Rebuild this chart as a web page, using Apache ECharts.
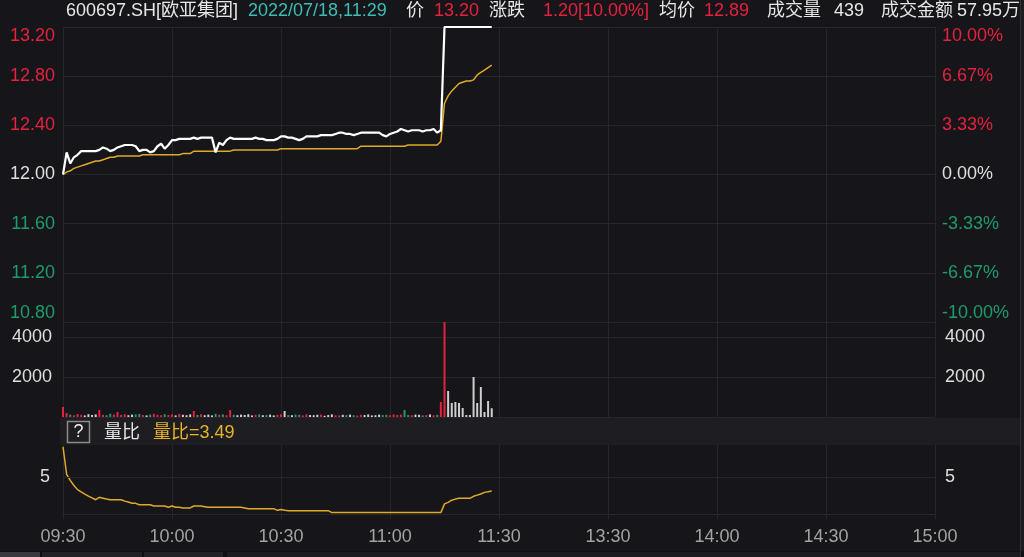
<!DOCTYPE html>
<html><head><meta charset="utf-8">
<script src="https://cdn.jsdelivr.net/npm/echarts@6/dist/echarts.min.js"></script>
<style>html,body{margin:0;padding:0;background:#16161a;}#c{width:1024px;height:557px;}</style>
</head><body><div id="c"></div><script>
// ---------- data ----------
const preClose = 12.00;
const tickLabels = ['09:30','10:00','10:30','11:00','11:30','13:30','14:00','14:30','15:00'];
const priceTicksLeft = [10.80, 11.20, 11.60, 12.00, 12.40, 12.80, 13.20];
const volumeTicks = [2000, 4000];
const ratioTicks = [5];

// minute price 09:30 .. 11:29
const price = [
 12.00,12.18,12.09,12.14,12.16,12.19,12.19,12.19,12.19,12.19,
 12.20,12.22,12.21,12.19,12.20,12.22,12.23,12.24,12.24,12.24,
 12.23,12.19,12.20,12.20,12.18,12.19,12.23,12.25,12.21,12.24,
 12.28,12.28,12.29,12.29,12.29,12.29,12.30,12.29,12.30,12.30,
 12.30,12.30,12.18,12.26,12.24,12.28,12.30,12.29,12.29,12.29,
 12.29,12.29,12.29,12.30,12.29,12.29,12.28,12.28,12.28,12.29,
 12.31,12.31,12.30,12.30,12.29,12.28,12.29,12.31,12.31,12.31,
 12.31,12.32,12.32,12.32,12.32,12.33,12.34,12.34,12.33,12.33,
 12.32,12.33,12.34,12.34,12.34,12.34,12.34,12.34,12.32,12.31,
 12.33,12.34,12.35,12.37,12.36,12.35,12.36,12.36,12.36,12.35,
 12.36,12.36,12.37,12.34,12.36,13.20,13.20,13.20,13.20,13.20,
 13.20,13.20,13.20,13.20,13.20,13.20,13.20,13.20,13.20
];
const avgPrice = [
 12.00,12.02,12.03,12.05,12.06,12.07,12.08,12.09,12.10,12.11,
 12.11,12.12,12.13,12.14,12.14,12.15,12.15,12.15,12.15,12.15,
 12.15,12.15,12.16,12.16,12.16,12.16,12.16,12.16,12.16,12.16,
 12.16,12.16,12.16,12.17,12.17,12.17,12.19,12.19,12.19,12.19,
 12.19,12.19,12.19,12.19,12.19,12.19,12.19,12.20,12.20,12.20,
 12.20,12.20,12.20,12.20,12.20,12.20,12.20,12.20,12.20,12.20,
 12.21,12.21,12.21,12.21,12.21,12.21,12.21,12.21,12.21,12.21,
 12.21,12.21,12.21,12.21,12.21,12.21,12.21,12.21,12.21,12.21,
 12.21,12.21,12.23,12.23,12.23,12.23,12.23,12.23,12.23,12.23,
 12.23,12.23,12.23,12.23,12.23,12.24,12.24,12.24,12.24,12.24,
 12.24,12.24,12.24,12.24,12.27,12.58,12.64,12.68,12.71,12.74,
 12.75,12.76,12.76,12.77,12.81,12.83,12.85,12.87,12.89
];
const volume = [
 500,200,120,90,150,110,80,140,100,130,
 350,110,90,160,120,250,100,140,90,120,
 130,150,100,80,120,160,110,90,140,100,
 120,80,150,110,90,130,300,100,140,90,
 120,80,160,110,130,90,350,110,90,120,
 100,140,80,110,130,90,100,120,80,110,
 140,300,100,90,120,110,80,130,100,90,
 110,120,60,100,130,90,80,110,100,120,
 90,70,110,100,130,80,90,120,100,110,
 90,130,100,120,350,100,90,120,110,80,
 100,130,90,110,750,4750,1300,700,750,700,
 450,100,100,2000,700,1500,250,800,439
];
const volRatio = [
 8.31,5.32,4.65,4.10,3.65,3.40,3.17,2.95,2.75,2.55,
 2.81,2.72,2.63,2.55,2.55,2.55,2.55,2.40,2.30,2.16,
 2.16,2.01,2.01,2.01,2.01,1.87,1.87,1.87,1.87,1.73,
 1.87,1.73,1.73,1.66,1.66,1.66,1.87,1.87,1.87,1.80,
 1.73,1.73,1.73,1.73,1.73,1.73,1.73,1.73,1.73,1.73,
 1.66,1.58,1.58,1.58,1.58,1.58,1.58,1.58,1.58,1.40,
 1.50,1.40,1.36,1.36,1.36,1.36,1.36,1.36,1.36,1.36,
 1.36,1.36,1.36,1.36,1.15,1.15,1.15,1.15,1.15,1.15,
 1.15,1.15,1.15,1.15,1.15,1.15,1.15,1.15,1.15,1.15,
 1.15,1.15,1.15,1.15,1.15,1.15,1.15,1.15,1.15,1.15,
 1.15,1.15,1.15,1.15,1.15,2.10,2.27,2.50,2.62,2.70,
 2.70,2.70,2.70,2.92,3.05,3.17,3.35,3.41,3.49
];

// ---------- build ----------
function pad(n){return (n<10?'0':'')+n;}
const times = [];
for (let m = 0; m <= 120; m++) { const t = 570 + m; times.push(pad(Math.floor(t/60)) + ':' + pad(t%60)); }
for (let m = 1; m <= 120; m++) { const t = 780 + m; times.push(pad(Math.floor(t/60)) + ':' + pad(t%60)); }

const FONT = "'Liberation Sans', 'Noto Sans CJK SC', sans-serif";
const RED = '#e5213f', GREEN = '#1f9b6b', WHITE = '#dedede', GRIDC = '#26262b', GOLD = '#e0a928';
const tickSet = new Set(tickLabels);

const volData = volume.map((v, i) => {
  let c;
  if (i === 0) c = RED;
  else if (price[i] > price[i-1] + 1e-9) c = RED;
  else if (price[i] < price[i-1] - 1e-9) c = GREEN;
  else c = '#cfcfcf';
  return { value: v, itemStyle: { color: c } };
});

const gl = 63, gr = 89;
const grids = [
  { left: gl, right: gr, top: 27, height: 295 },
  { left: gl, right: gr, top: 322, height: 95 },
  { left: gl, right: gr, top: 445, height: 69 }
];

function xAx(i, showLabel) {
  return {
    type: 'category', gridIndex: i, data: times, boundaryGap: false,
    axisLine: { show: i === 2, lineStyle: { color: GRIDC } },
    axisTick: { show: i === 2, length: 5, interval: (idx) => idx % 30 === 0, lineStyle: { color: GRIDC } },
    splitLine: { show: true, interval: (idx) => idx % 30 === 0, lineStyle: { color: GRIDC, width: 1 } },
    axisLabel: {
      show: showLabel, interval: (idx) => idx % 30 === 0, margin: 14,
      color: '#a3a3a3', fontSize: 18, fontFamily: FONT,
      formatter: v => tickSet.has(v) ? v : ''
    }
  };
}

function priceColor(v) {
  if (v > preClose + 1e-6) return RED;
  if (v < preClose - 1e-6) return GREEN;
  return WHITE;
}

const option = {
  animation: false,
  backgroundColor: '#16161a',
  grid: grids,
  xAxis: [xAx(0, false), xAx(1, false), xAx(2, true)],
  yAxis: [
    { type: 'value', gridIndex: 0, position: 'left', min: priceTicksLeft[0], max: priceTicksLeft[priceTicksLeft.length-1], interval: 0.4,
      axisLine: { show: false }, axisTick: { show: false },
      splitLine: { show: true, lineStyle: { color: GRIDC } },
      axisLabel: { margin: 8, fontSize: 18, fontFamily: FONT,
        verticalAlignMaxLabel: 'top', verticalAlignMinLabel: 'bottom',
        formatter: v => v.toFixed(2), color: v => priceColor(v) } },
    { type: 'value', gridIndex: 0, position: 'right', min: -10, max: 10, interval: 10/3,
      axisLine: { show: false }, axisTick: { show: false }, splitLine: { show: false },
      axisLabel: { margin: 7, fontSize: 18, fontFamily: FONT,
        verticalAlignMaxLabel: 'top', verticalAlignMinLabel: 'bottom',
        formatter: v => (Math.abs(v) < 1e-6 ? 0 : v).toFixed(2) + '%',
        color: v => v > 1e-6 ? RED : (v < -1e-6 ? GREEN : WHITE) } },
    { type: 'value', gridIndex: 1, position: 'left', min: 0, max: 4750, interval: 2000,
      axisLine: { show: false }, axisTick: { show: false },
      splitLine: { show: true, lineStyle: { color: GRIDC } },
      axisLabel: { margin: 11, fontSize: 18, fontFamily: FONT, color: WHITE,
        formatter: v => volumeTicks.indexOf(v) >= 0 ? String(v) : '' } },
    { type: 'value', gridIndex: 1, position: 'right', min: 0, max: 4750, interval: 2000,
      axisLine: { show: false }, axisTick: { show: false }, splitLine: { show: false },
      axisLabel: { margin: 10, fontSize: 18, fontFamily: FONT, color: WHITE,
        formatter: v => volumeTicks.indexOf(v) >= 0 ? String(v) : '' } },
    { type: 'value', gridIndex: 2, position: 'left', min: 1, max: 8.5, interval: 0.5,
      axisLine: { show: false }, axisTick: { show: false }, splitLine: { show: false },
      axisLabel: { margin: 13, fontSize: 18, fontFamily: FONT, color: WHITE,
        formatter: v => ratioTicks.some(t => Math.abs(t - v) < 1e-6) ? String(Math.round(v)) : '' } },
    { type: 'value', gridIndex: 2, position: 'right', min: 1, max: 8.5, interval: 0.5,
      axisLine: { show: false }, axisTick: { show: false }, splitLine: { show: false },
      axisLabel: { margin: 10, fontSize: 18, fontFamily: FONT, color: WHITE,
        formatter: v => ratioTicks.some(t => Math.abs(t - v) < 1e-6) ? String(Math.round(v)) : '' } }
  ],
  series: [
    { type: 'line', xAxisIndex: 0, yAxisIndex: 0, data: avgPrice, showSymbol: false, symbol: 'none',
      lineStyle: { color: GOLD, width: 1.5 }, z: 3 },
    { type: 'line', xAxisIndex: 0, yAxisIndex: 0, data: price, showSymbol: false, symbol: 'none',
      lineStyle: { color: '#ffffff', width: 2.2 }, z: 4 },
    { type: 'bar', xAxisIndex: 1, yAxisIndex: 2, data: volData, barWidth: 2 },
    { type: 'line', xAxisIndex: 2, yAxisIndex: 4, data: volRatio, showSymbol: false, symbol: 'none',
      lineStyle: { color: GOLD, width: 1.5 },
      markLine: { silent: true, symbol: 'none', label: { show: false },
        lineStyle: { color: GRIDC, type: 'solid', width: 1 }, data: [{ yAxis: 5 }] } }
  ],
  graphic: [
    { type: 'rect', shape: { x: 60, y: 418, width: 960, height: 27 }, style: { fill: '#1e1e22' }, z: 0 },
    { type: 'rect', shape: { x: 67.5, y: 421.5, width: 22, height: 21 }, style: { fill: 'none', stroke: '#8c8c8c', lineWidth: 1.5 }, z: 10 },
    { type: 'text', x: 78.5, y: 432.5, style: { text: '?', fill: '#f0f0f0', font: '18px ' + FONT, textAlign: 'center', textVerticalAlign: 'middle' }, z: 10 },
    { type: 'text', x: 104, y: 433, style: { text: '量比', fill: '#e6e6e6', font: '18px ' + FONT, textVerticalAlign: 'middle' }, z: 10 },
    { type: 'text', x: 153, y: 433, style: { text: '量比=3.49', fill: '#e8b526', font: '18px ' + FONT, textVerticalAlign: 'middle' }, z: 10 },
    // header
    { type: 'text', x: 66, y: 11, style: { text: '600697.SH[欧亚集团]', fill: '#e6e6e6', font: '18px ' + FONT, textVerticalAlign: 'middle' } },
    { type: 'text', x: 248, y: 11, style: { text: '2022/07/18,11:29', fill: '#3dbdb5', font: '18px ' + FONT, textVerticalAlign: 'middle' } },
    { type: 'text', x: 406, y: 11, style: { text: '价', fill: '#e6e6e6', font: '18px ' + FONT, textVerticalAlign: 'middle' } },
    { type: 'text', x: 434, y: 11, style: { text: '13.20', fill: RED, font: '18px ' + FONT, textVerticalAlign: 'middle' } },
    { type: 'text', x: 489, y: 11, style: { text: '涨跌', fill: '#e6e6e6', font: '18px ' + FONT, textVerticalAlign: 'middle' } },
    { type: 'text', x: 543, y: 11, style: { text: '1.20[10.00%]', fill: RED, font: '18px ' + FONT, textVerticalAlign: 'middle' } },
    { type: 'text', x: 659, y: 11, style: { text: '均价', fill: '#e6e6e6', font: '18px ' + FONT, textVerticalAlign: 'middle' } },
    { type: 'text', x: 704, y: 11, style: { text: '12.89', fill: RED, font: '18px ' + FONT, textVerticalAlign: 'middle' } },
    { type: 'text', x: 767, y: 11, style: { text: '成交量', fill: '#e6e6e6', font: '18px ' + FONT, textVerticalAlign: 'middle' } },
    { type: 'text', x: 834, y: 11, style: { text: '439', fill: '#e6e6e6', font: '18px ' + FONT, textVerticalAlign: 'middle' } },
    { type: 'text', x: 881, y: 11, style: { text: '成交金额', fill: '#e6e6e6', font: '18px ' + FONT, textVerticalAlign: 'middle' } },
    { type: 'text', x: 957, y: 11, style: { text: '57.95万', fill: '#e6e6e6', font: '18px ' + FONT, textVerticalAlign: 'middle' } },
    // right frame & bottom tabs
    { type: 'rect', shape: { x: 1020, y: 0, width: 4, height: 557 }, style: { fill: '#1c1c20' }, z: 20 },
    { type: 'rect', shape: { x: 1020, y: 0, width: 1, height: 557 }, style: { fill: '#303034' }, z: 21 },
    { type: 'rect', shape: { x: 0, y: 551, width: 1024, height: 6 }, style: { fill: '#101013' }, z: 20 },
    { type: 'rect', shape: { x: 0, y: 552, width: 40, height: 5 }, style: { fill: '#3a3a3e' }, z: 21 },
    { type: 'rect', shape: { x: 42, y: 552, width: 100, height: 5 }, style: { fill: '#222226' }, z: 21 },
    { type: 'rect', shape: { x: 144, y: 552, width: 79, height: 5 }, style: { fill: '#222226' }, z: 21 },
    { type: 'rect', shape: { x: 227, y: 552, width: 793, height: 5 }, style: { fill: '#1c1c20' }, z: 21 }
  ]
};
const chart = echarts.init(document.getElementById('c'), null, { renderer: 'canvas' });
chart.setOption(option);
</script></body></html>
